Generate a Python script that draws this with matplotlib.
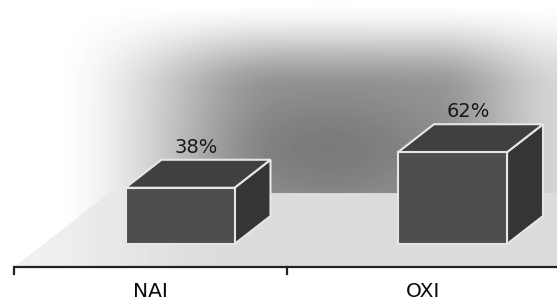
import numpy as np
import matplotlib.pyplot as plt
from matplotlib.patches import Polygon, Rectangle

categories = ["NAI", "OXI"]
values = [38, 62]
value_labels = ["38%", "62%"]

# layout (data units: x = category index, y = percent)
W, H = 557, 308
px_per_cat = 272.5
px_per_pct = 1.48
x0_px, y0_px = 180.0, 244.0          # pixel position of category 0 front-centre, value 0
bar_w = 0.40
depth_dx = 36 / px_per_cat
depth_dy = 28 / px_per_pct
floor_front = -0.82                   # floor front edge, in depth units
floor_back = 1.82

xlim = (-x0_px / px_per_cat, (W - x0_px) / px_per_cat)
ylim = (-(H - y0_px) / px_per_pct, y0_px / px_per_pct)


def smoothstep(t):
    t = np.clip(t, 0, 1)
    return t * t * (3 - 2 * t)


fig = plt.figure(figsize=(W / 100, H / 100), dpi=100)
ax = fig.add_axes([0, 0, 1, 1])
ax.set_xlim(*xlim)
ax.set_ylim(*ylim)
ax.axis("off")

# wall gradient: light at top/left, dark grey in the middle
yy, xx = np.mgrid[0:H, 0:W].astype(float)
hx = smoothstep((xx - 50) / 230) * (1 - 0.6 * smoothstep((xx - 430) / 140))
vy = smoothstep(yy / 90)
blob = np.exp(-((xx - 330) / 120) ** 2 - ((yy - 150) / 60) ** 2)
wall = 1.0 - (0.40 * hx * vy + 0.12 * blob)
ax.imshow(wall, cmap="gray", vmin=0, vmax=1, extent=(*xlim, ylim[0], ylim[1]),
          origin="upper", aspect="auto", zorder=0, interpolation="bilinear")

# floor parallelogram with a light-to-grey gradient
fx0, fx1 = -0.5, len(categories) + 0.5
ff = (floor_front * depth_dx, floor_front * depth_dy)
fb = (floor_back * depth_dx, floor_back * depth_dy)
floor = Polygon([(fx0 + ff[0], ff[1]), (fx1 + ff[0], ff[1]),
                 (fx1 + fb[0], fb[1]), (fx0 + fb[0], fb[1])],
                closed=True, facecolor="none", edgecolor="none")
ax.add_patch(floor)
floor_img = 0.94 - 0.08 * smoothstep((xx - 20) / 220)
im = ax.imshow(floor_img, cmap="gray", vmin=0, vmax=1, extent=(*xlim, ylim[0], ylim[1]),
               origin="upper", aspect="auto", zorder=1, interpolation="bilinear")
im.set_clip_path(floor)
ax.add_patch(Rectangle((xlim[0], ylim[0]), xlim[1] - xlim[0], ff[1] - ylim[0],
                       facecolor="white", edgecolor="none", zorder=1))

# category axis line and ticks
ax.plot([-0.5 + ff[0], xlim[1]], [ff[1], ff[1]], color="#222222", lw=1.6, zorder=2,
        solid_capstyle="butt")
for t in np.arange(-0.5, len(categories), 1.0):
    ax.plot([t + ff[0], t + ff[0]], [ff[1], ff[1] - 5], color="#222222", lw=1.6, zorder=2)

# 3D bars
edge = dict(edgecolor="#e6e6e6", linewidth=1.5, joinstyle="miter")
for i, v in enumerate(values):
    l, r = i - bar_w / 2, i + bar_w / 2
    front = [(l, 0), (r, 0), (r, v), (l, v)]
    top = [(l, v), (r, v), (r + depth_dx, v + depth_dy), (l + depth_dx, v + depth_dy)]
    side = [(r, 0), (r + depth_dx, depth_dy), (r + depth_dx, v + depth_dy), (r, v)]
    ax.add_patch(Polygon(side, closed=True, facecolor="#353535", zorder=3, **edge))
    ax.add_patch(Polygon(top, closed=True, facecolor="#404040", zorder=3, **edge))
    ax.add_patch(Polygon(front, closed=True, facecolor="#4e4e4e", zorder=4, **edge))
    ax.text(i + depth_dx * 0.45, v + depth_dy + 2.0, value_labels[i], ha="center", va="bottom",
            fontsize=14, color="#1a1a1a", zorder=5)

# category labels on the floor front
for i, c in enumerate(categories):
    ax.text(i + ff[0], ylim[0] + 5 / px_per_pct + 8, c, ha="center", va="center",
            fontsize=14.5, color="#0a0a0a", zorder=5)

fig.savefig("out.png", dpi=100)
